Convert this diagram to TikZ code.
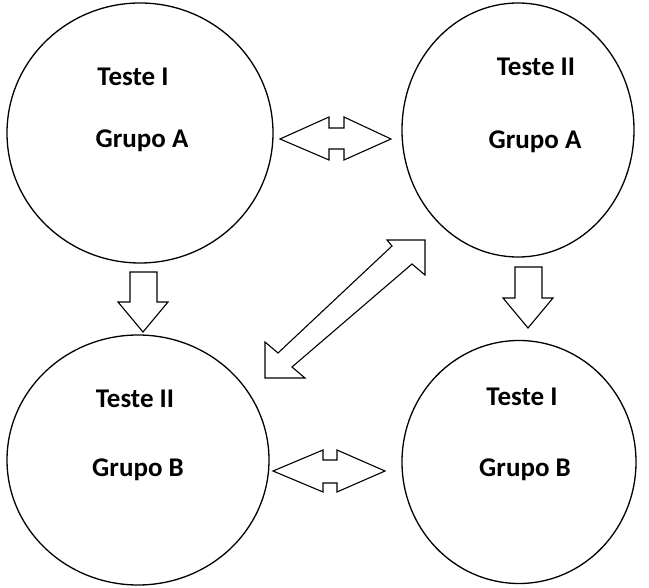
\documentclass[tikz,border=0pt]{standalone}
\usepackage{fontspec}
\setmainfont{Carlito}
\usepackage{tikz}
\usetikzlibrary{shapes.geometric}

\begin{document}
\begin{tikzpicture}[x=1pt,y=-1pt, line width=1.1pt,
  every node/.style={font=\fontsize{27}{32}\selectfont\bfseries,inner sep=0pt},
  grp/.style={draw,ellipse,line width=1.3pt}]
\useasboundingbox (0,0) rectangle (649,588);
% four groups
\node[grp,minimum width=266,minimum height=260] (ta) at (140,133) {};
\node[grp,minimum width=232,minimum height=254] (tb) at (518,130) {};
\node[grp,minimum width=262,minimum height=250] (ba) at (138,460) {};
\node[grp,minimum width=234,minimum height=243] (bb) at (519,462) {};
\node (ta1) at (133,77) {Teste I};
\node (ta2) at (142,141) {Grupo A};
\node (tb1) at (536,67) {Teste II};
\node (tb2) at (535,142) {Grupo A};
\node (ba1) at (135,399) {Teste II};
\node (ba2) at (138,470) {Grupo B};
\node (bb1) at (522,397) {Teste I};
\node (bb2) at (525,470) {Grupo B};
% block arrows
\draw (280,139)--(329,117)--(329,128)--(344,128)--(344,117)--(391,139)--(344,160)--(344,149)--(329,149)--(329,160)--cycle;
\draw (273,471)--(323,450)--(323,460)--(337,460)--(337,450)--(385,471)--(337,492)--(337,483)--(323,483)--(323,492)--cycle;
\draw (130,272)--(157,272)--(157,302)--(168,302)--(143,332)--(118,302)--(130,302)--cycle;
\draw (515,267)--(542,267)--(542,298)--(553,298)--(528,328)--(503,298)--(515,298)--cycle;
\draw (265,378)--(265,342)--(278,353)--(392,246)--(387,240)--(425,240)--(425,275)--(412,264)--(292,367)--(305,378)--cycle;
\end{tikzpicture}
\end{document}
